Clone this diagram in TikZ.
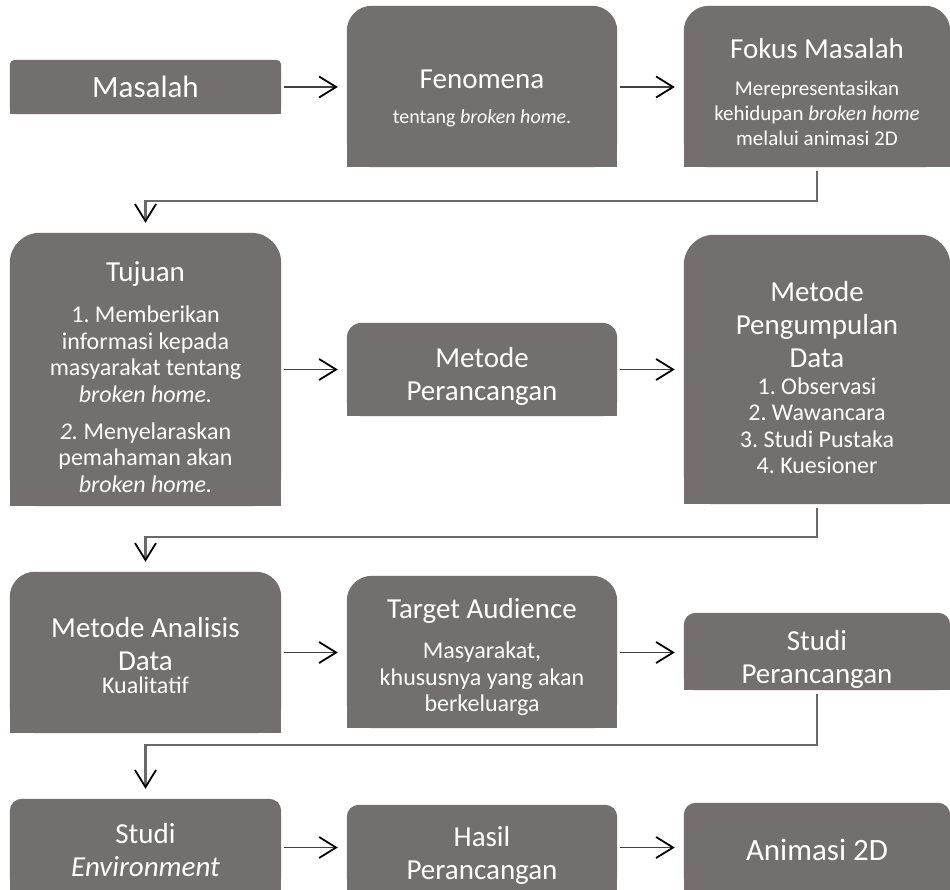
\documentclass[tikz,border=0pt]{standalone}
\usepackage{fontspec}
\setmainfont{Carlito}
\usetikzlibrary{positioning,arrows.meta,backgrounds}
\definecolor{boxgray}{RGB}{115,111,110}
\definecolor{linegray}{RGB}{105,105,105}
\newcommand{\bigtxt}{\fontsize{31}{35}\selectfont\frenchspacing}
\newcommand{\titletxt}{\fontsize{29}{33}\selectfont\lineskiplimit=-50pt\frenchspacing}
\newcommand{\subtxt}{\fontsize{24}{26.5}\selectfont\lineskiplimit=-50pt\frenchspacing}
\newcommand{\fenotxt}{\fontsize{20}{24}\selectfont\lineskiplimit=-50pt\frenchspacing}
\newcommand{\fokustxt}{\fontsize{21}{25}\selectfont\lineskiplimit=-50pt\frenchspacing}
% isi kotak: parbox terpusat, digeser turun dengan ruang kosong di atas
\newcommand{\inbox}[2]{\parbox{256pt}{\centering\vspace*{#1}#2}}
\tikzset{
  stagebox/.style={inner sep=0pt, text=white, font=\titletxt},
  leftbox/.style={stagebox, minimum width=271pt},
  midbox/.style={stagebox, minimum width=270pt},
  rightbox/.style={stagebox, minimum width=266pt},
  flowarrow/.style={-{Straight Barb[length=17pt,width=21pt,line width=1.8pt,color=black]}, line width=1.4pt, draw=black!75, shorten <=3pt, shorten >=9pt},
  elbowarrow/.style={-{Straight Barb[length=17pt,width=21pt,line width=1.8pt,color=black]}, line width=2.4pt, draw=linegray, shorten <=4pt, shorten >=10pt}
}

\begin{document}
\begin{tikzpicture}[x=1pt, y=-1pt]
  \useasboundingbox (0,0) rectangle (950,890);
  % baris 1
  \node[leftbox, minimum height=54pt, font=\bigtxt] (masalah) at (145.5,87) {Masalah};
  \node[midbox, minimum height=161pt, font=\fenotxt] (fenomena) at (482,86.5)
    {\inbox{24pt}{{\titletxt Fenomena}\\[11pt] tentang \textit{broken home}.}};
  \node[rightbox, minimum height=161pt, font=\fokustxt] (fokus) at (817,86.5)
    {\inbox{12pt}{{\titletxt Fokus Masalah}\\[12pt] Merepresentasikan\\ kehidupan \textit{broken home}\\ melalui animasi 2D}};
  % baris 2
  \node[leftbox, minimum height=273pt, font=\subtxt] (tujuan) at (145.5,369.5)
    {\inbox{15pt}{{\titletxt Tujuan}\\[15pt] 1. Memberikan\\ informasi kepada\\ masyarakat tentang\\ \textit{broken home.}\\[10.5pt]
     \textit{2.} Menyelaraskan\\ pemahaman akan\\ \textit{broken home.}}};
  \node[midbox, minimum height=93pt] (metrancang) at (482,369.5) {\inbox{13pt}{Metode\\ Perancangan}};
  \node[rightbox, minimum height=269pt, font=\subtxt] (pengumpulan) at (817,369.5)
    {\inbox{16pt}{{\titletxt Metode}\\[6.5pt] {\titletxt Pengumpulan}\\[6.5pt] {\titletxt Data}\\[0.5pt]
     1. Observasi\\ 2. Wawancara\\ 3. Studi Pustaka\\ 4. Kuesioner}};
  % baris 3
  \node[leftbox, minimum height=161pt, font=\subtxt] (analisis) at (145.5,652.5)
    {\inbox{7pt}{{\titletxt Metode Analisis}\\[6.5pt] {\titletxt Data}\\[-3.5pt] Kualitatif}};
  \node[midbox, minimum height=152pt, font=\subtxt] (audience) at (482,652)
    {\inbox{10pt}{{\titletxt Target Audience}\\[13.5pt] Masyarakat,\\ khususnya yang akan\\ berkeluarga}};
  \node[rightbox, minimum height=77pt] (studirancang) at (817,651.5) {\inbox{16pt}{Studi\\ Perancangan}};
  % baris 4
  \node[leftbox, minimum height=91pt] (environment) at (145.5,844.5) {\inbox{11pt}{Studi\\ \textit{Environment}}};
  \node[midbox, minimum height=85pt] (hasil) at (482,847.5) {\inbox{16pt}{Hasil\\ Perancangan}};
  \node[rightbox, minimum height=87pt, font=\bigtxt] (animasi) at (817,846.5) {\inbox{6pt}{Animasi 2D}};

  % panah
  \draw[flowarrow] (masalah.east) -- (masalah.east -| fenomena.west);
  \draw[flowarrow] (fenomena.east |- masalah.east) -- (masalah.east -| fokus.west);
  \draw[elbowarrow] (fokus.south) -- ++(0,34) -| (tujuan.north);
  \draw[flowarrow] (tujuan.east) -- (tujuan.east -| metrancang.west);
  \draw[flowarrow] (metrancang.east) -- (metrancang.east -| pengumpulan.west);
  \draw[elbowarrow] (pengumpulan.south) -- ++(0,33) -| (analisis.north);
  \draw[flowarrow] (analisis.east) -- (analisis.east -| audience.west);
  \draw[flowarrow] (audience.east |- analisis.east) -- (analisis.east -| studirancang.west);
  \draw[elbowarrow] (studirancang.south) -- ++(0,55) -| (environment.north);
  \draw[flowarrow] (environment.east |- hasil.west) -- (hasil.west);
  \draw[flowarrow] (hasil.east) -- (hasil.east -| animasi.west);

  % kotak abu-abu, sudut atas membulat
  \begin{scope}[on background layer]
    \fill[white] (0,0) rectangle (950,890);
    \foreach \n/\r in {masalah/5pt, fenomena/25pt, fokus/25pt, tujuan/30pt, metrancang/15pt, pengumpulan/30pt,
                       analisis/25pt, audience/25pt, studirancang/12pt, environment/12pt, hasil/12pt, animasi/12pt} {
      \fill[boxgray, rounded corners=\r] (\n.south west) rectangle (\n.north east);
      \fill[boxgray] (\n.south west) rectangle (\n.east);
    }
  \end{scope}
\end{tikzpicture}
\end{document}
